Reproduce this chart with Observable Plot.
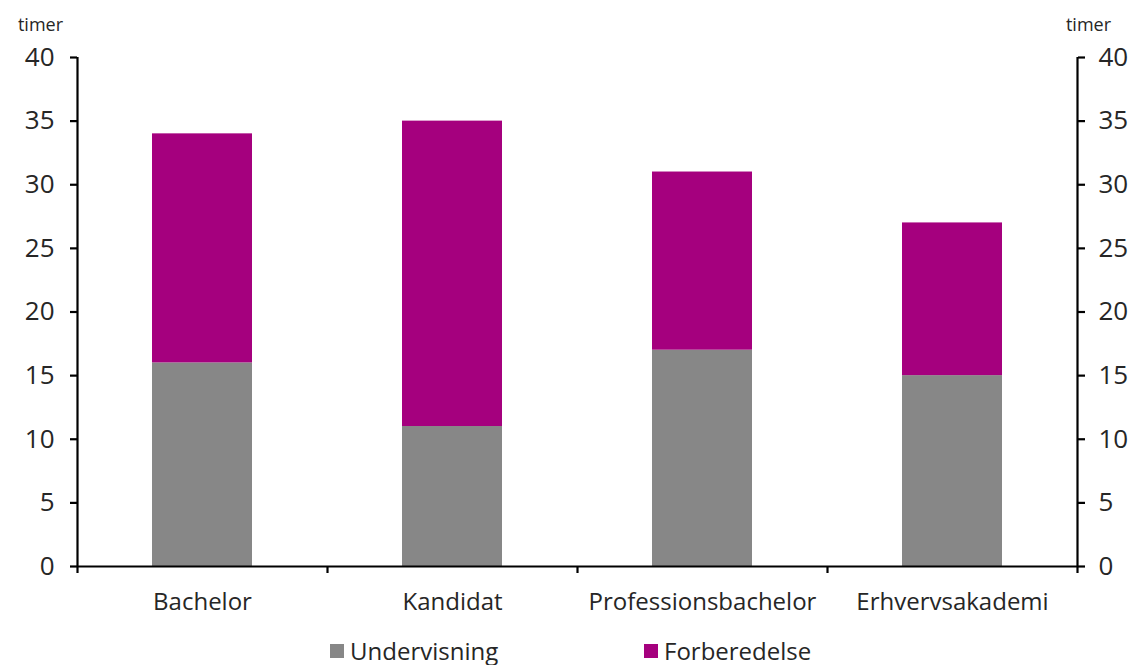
<!DOCTYPE html>
<html>
<head>
<meta charset="utf-8">
<script src="https://cdn.jsdelivr.net/npm/d3@7"></script>
<script src="https://cdn.jsdelivr.net/npm/@observablehq/plot@0.6"></script>
<style>
  html, body { margin: 0; padding: 0; background: #fff; }
  body { width: 1146px; height: 665px; position: relative; overflow: hidden; font-family: "Open Sans", sans-serif; }
  #chart { position: absolute; left: 0; top: 0; }
  #legend { position: absolute; left: 0; top: 625px; width: 1146px; height: 40px; font-size: 24px; color: #262626; }
  .item { position: absolute; top: 8px; display: flex; align-items: center; line-height: 36px; }
  .sw { width: 14px; height: 14px; margin-right: 6px; }
</style>
</head>
<body>
<div id="chart"></div>
<div id="legend"></div>
<script>
const categories = ["Bachelor", "Kandidat", "Professionsbachelor", "Erhvervsakademi"];
const series = ["Undervisning", "Forberedelse"];
const undervisning = [16, 11, 17, 15];
const forberedelse = [18, 24, 14, 12];
const colors = ["#878787", "#A5007E"];
const yTicks = [0, 5, 10, 15, 20, 25, 30, 35, 40];
const unitLabel = "timer";

const rows = [];
categories.forEach((c, i) => {
  rows.push({cat: c, i0: i, i1: i + 1, series: series[0], y1: 0, y2: undervisning[i]});
  rows.push({cat: c, i0: i, i1: i + 1, series: series[1], y1: undervisning[i], y2: undervisning[i] + forberedelse[i]});
});
const boundaries = d3.range(categories.length + 1);
const centers = categories.map((c, i) => i + 0.5);

const chart = Plot.plot({
  width: 1146,
  height: 625,
  marginTop: 57,
  marginBottom: 59,
  marginLeft: 77,
  marginRight: 69,
  style: {fontFamily: "'Open Sans', sans-serif", color: "#262626", background: "#fff"},
  x: {domain: [0, categories.length], axis: null},
  y: {domain: [0, 40], axis: null},
  color: {domain: series, range: colors},
  marks: [
    Plot.rect(rows, {x1: "i0", x2: "i1", y1: "y1", y2: "y2", fill: "series", insetLeft: 75, insetRight: 75}),
    Plot.axisY({anchor: "left", ticks: yTicks, tickSize: 7, tickPadding: 16, fontSize: 26, label: null, stroke: "#000", strokeWidth: 2.2}),
    Plot.axisY({anchor: "right", ticks: yTicks, tickSize: 7, tickPadding: 14, fontSize: 26, label: null, stroke: "#000", strokeWidth: 2.2}),
    Plot.axisX({anchor: "bottom", ticks: boundaries, tickSize: 7, tickFormat: () => "", label: null, stroke: "#000", strokeWidth: 2.2}),
    Plot.axisX({anchor: "bottom", ticks: centers, tickSize: 0, tickPadding: 26, fontSize: 24, tickFormat: d => categories[Math.floor(d)], label: null}),
    Plot.ruleX([0, categories.length], {stroke: "#000", strokeWidth: 2.2}),
    Plot.ruleY([0], {stroke: "#000", strokeWidth: 2.2}),
    Plot.text([unitLabel], {frameAnchor: "top-left", dx: -37, dy: -39, fontSize: 18, textAnchor: "middle", fill: "#262626"}),
    Plot.text([unitLabel], {frameAnchor: "top-right", dx: 11, dy: -39, fontSize: 18, textAnchor: "middle", fill: "#262626"})
  ]
});
document.getElementById("chart").appendChild(chart);

const legend = document.getElementById("legend");
const legendX = [330, 644];
series.forEach((s, k) => {
  const it = document.createElement("div");
  it.className = "item";
  it.style.left = legendX[k] + "px";
  const sw = document.createElement("div");
  sw.className = "sw";
  sw.style.background = colors[k];
  const t = document.createElement("span");
  t.textContent = s;
  it.appendChild(sw);
  it.appendChild(t);
  legend.appendChild(it);
});
</script>
</body>
</html>
